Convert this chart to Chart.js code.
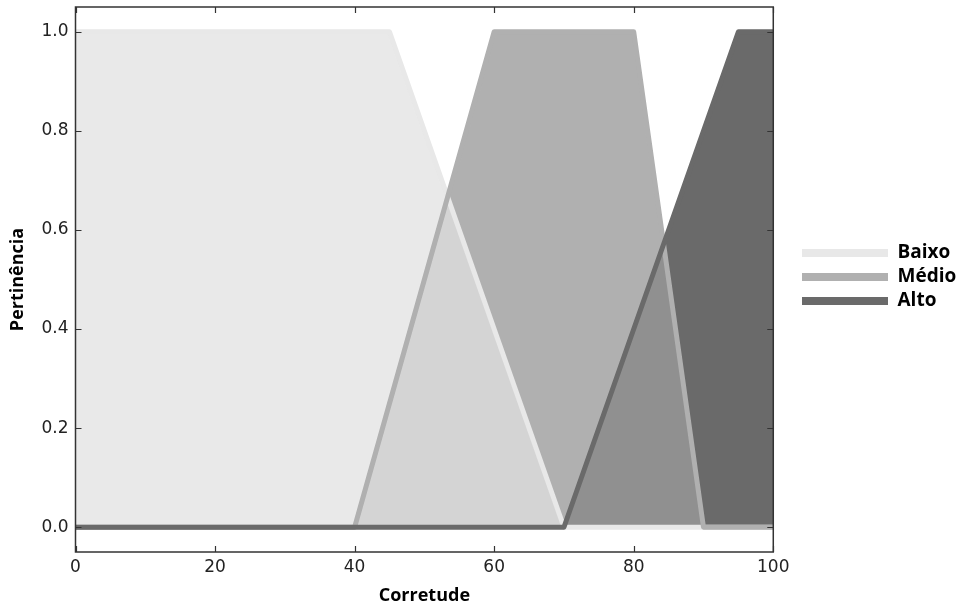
<!DOCTYPE html>
<html>
<head>
<meta charset="utf-8">
<script src="https://cdn.jsdelivr.net/npm/chart.js@4/dist/chart.umd.min.js"></script>
<style>
  html, body { margin: 0; padding: 0; background: #fff; }
  #wrap { width: 958px; height: 608px; }
</style>
</head>
<body>
<div id="wrap"><canvas id="fuzzyChart" width="958" height="608"></canvas></div>
<script>
// membership functions (x = Corretude, y = Pertinência)
const names = ["Baixo", "Médio", "Alto"];
const baixoX = [0, 45, 70, 100];
const baixoY = [1, 1, 0, 0];
const medioX = [0, 40, 60, 80, 90, 100];
const medioY = [0, 0, 1, 1, 0, 0];
const altoX = [0, 70, 95, 100];
const altoY = [0, 0, 1, 1];
const xTicks = [0, 20, 40, 60, 80, 100];
const yTicks = [0, 0.2, 0.4, 0.6, 0.8, 1.0];

const lineColors = ["#e8e8e8", "#b0b0b0", "#6a6a6a"];
const fillColors = ["rgba(225,225,225,0.73)", "rgba(154,154,154,0.785)", "rgb(106,106,106)"];

const pts = (xs, ys) => xs.map((x, i) => ({ x: x, y: ys[i] }));
const series = [pts(baixoX, baixoY), pts(medioX, medioY), pts(altoX, altoY)];

const lineSet = i => ({
    label: names[i],
    data: series[i],
    borderColor: lineColors[i],
    backgroundColor: lineColors[i],
    borderWidth: 5,
    borderJoinStyle: "round",
    pointRadius: 0,
    fill: false,
    clip: 0
});
const fillSet = i => ({
    label: names[i] + " area",
    data: series[i],
    borderColor: "rgba(0,0,0,0)",
    borderWidth: 0,
    backgroundColor: fillColors[i],
    pointRadius: 0,
    fill: "origin",
    clip: 0
});

// frame with inward ticks like the original
const framePlugin = {
    id: "frame",
    afterLayout(chart) {
        const lg = chart.legend;
        const w = lg.right - lg.left;
        lg.left = 797;
        lg.right = lg.left + w;
        lg.top = 238.5;
        lg.bottom = lg.top + 77;
    },
    afterDraw(chart) {
        const { ctx, chartArea: a, scales } = chart;
        ctx.save();
        ctx.strokeStyle = "#333";
        ctx.lineWidth = 1.2;
        ctx.beginPath();
        xTicks.forEach(v => {
            const px = Math.round(scales.x.getPixelForValue(v)) + 0.5;
            ctx.moveTo(px, a.bottom); ctx.lineTo(px, a.bottom - 6);
            ctx.moveTo(px, a.top); ctx.lineTo(px, a.top + 6);
        });
        yTicks.forEach(v => {
            const py = Math.round(scales.y.getPixelForValue(v)) + 0.5;
            ctx.moveTo(a.left, py); ctx.lineTo(a.left + 6, py);
            ctx.moveTo(a.right, py); ctx.lineTo(a.right - 6, py);
        });
        ctx.stroke();
        ctx.lineWidth = 1.5;
        ctx.strokeRect(a.left, a.top, a.right - a.left, a.bottom - a.top);
        ctx.restore();
    }
};

new Chart(document.getElementById("fuzzyChart").getContext("2d"), {
    type: "line",
    data: {
        datasets: [lineSet(2), lineSet(1), lineSet(0), fillSet(0), fillSet(1), fillSet(2)]
    },
    options: {
        responsive: false,
        animation: false,
        layout: { padding: { top: 7, right: 15.5, bottom: 0, left: 0 } },
        plugins: {
            filler: { drawTime: "beforeDatasetsDraw" },
            tooltip: { enabled: false },
            legend: {
                position: "right",
                labels: {
                    boxWidth: 86,
                    boxHeight: 8,
                    padding: 5,
                    color: "#000",
                    font: { family: "'Open Sans'", size: 19, weight: "bold" },
                    generateLabels: () => names.map((n, i) => ({
                        text: n,
                        fillStyle: lineColors[i],
                        strokeStyle: lineColors[i],
                        lineWidth: 0,
                        hidden: false,
                        datasetIndex: 2 - i
                    }))
                }
            }
        },
        scales: {
            x: {
                type: "linear",
                min: 0,
                max: 100,
                afterBuildTicks: s => { s.ticks = xTicks.map(v => ({ value: v })); },
                afterFit: s => { s.height = 56; },
                grid: { display: false, drawTicks: false },
                border: { display: false },
                ticks: {
                    padding: 5,
                    color: "#222",
                    font: { family: "'DejaVu Sans'", size: 17 },
                    callback: v => String(v)
                },
                title: {
                    display: true,
                    text: "Corretude",
                    color: "#000",
                    font: { family: "'Open Sans'", size: 18, weight: "bold" },
                    padding: { top: 0, bottom: 1 }
                }
            },
            y: {
                min: -0.05,
                max: 1.05,
                afterBuildTicks: s => { s.ticks = yTicks.map(v => ({ value: v })); },
                afterFit: s => { s.width = 75.5; s.paddingTop = 0; s.paddingBottom = 0; },
                grid: { display: false, drawTicks: false },
                border: { display: false },
                ticks: {
                    padding: 7,
                    color: "#222",
                    font: { family: "'DejaVu Sans'", size: 17 },
                    callback: v => Number(v).toFixed(1)
                },
                title: {
                    display: true,
                    text: "Pertinência",
                    color: "#000",
                    font: { family: "'Open Sans'", size: 18, weight: "bold" },
                    padding: { top: 7, bottom: 0 }
                }
            }
        }
    },
    plugins: [framePlugin]
});
</script>
</body>
</html>
